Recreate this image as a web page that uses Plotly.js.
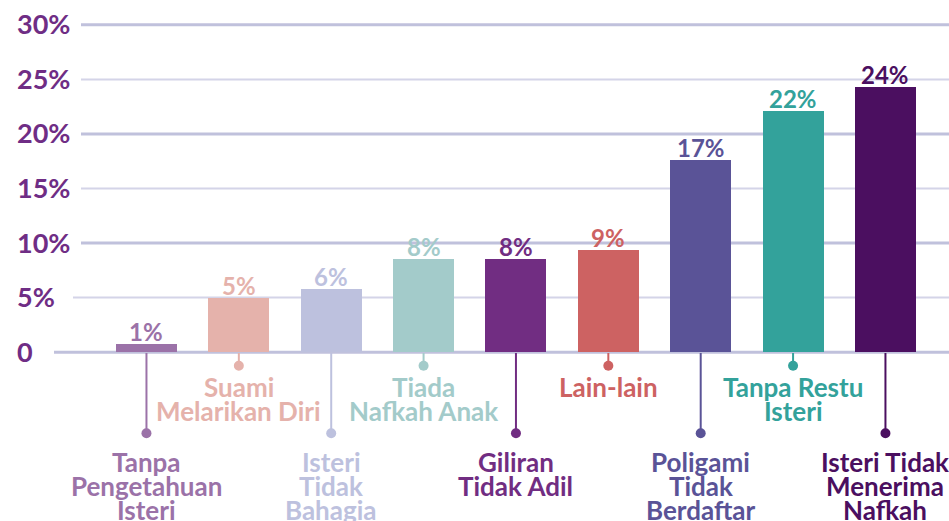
<!DOCTYPE html>
<html><head><meta charset="utf-8">
<script src="https://cdn.plot.ly/plotly-3.0.1.min.js"></script>
<style>html,body{margin:0;padding:0;background:#fff;}#chart{width:949px;height:521px;}</style>
</head><body><div id="chart"></div>
<script>
const categories = ["Tanpa Pengetahuan Isteri","Suami Melarikan Diri","Isteri Tidak Bahagia","Tiada Nafkah Anak","Giliran Tidak Adil","Lain-lain","Poligami Tidak Berdaftar","Tanpa Restu Isteri","Isteri Tidak Menerima Nafkah"];
const labelLines = [["Tanpa","Pengetahuan","Isteri"],["Suami","Melarikan Diri"],["Isteri","Tidak","Bahagia"],["Tiada","Nafkah Anak"],["Giliran","Tidak Adil"],["Lain-lain"],["Poligami","Tidak","Berdaftar"],["Tanpa Restu","Isteri"],["Isteri Tidak","Menerima","Nafkah"]];
const values = [0.73, 4.95, 5.77, 8.52, 8.52, 9.34, 17.58, 22.07, 24.27];
const valueLabels = ["1%","5%","6%","8%","8%","9%","17%","22%","24%"];
const colors = ["#9b72a8","#e5b2ab","#bdc1de","#a3cbca","#712d82","#cd6262","#5a5397","#33a29b","#4b0f60"];
const yTickVals = [0,5,10,15,20,25,30];
const yTickText = ["0","5%","10%","15%","20%","25%","30%"];

const FONT = "Lato, 'Open Sans', sans-serif";
const WEIGHT = 700;
const L = 14, W = 935, T = 3, H = 371, TOTAL_H = 521;
const px2paperX = p => (p - L) / W;
const px2paperY = p => (T + H - p) / H;

// gridlines (as shapes so they can start at different x)
const gridStartPx = {0:54, 5:73, 10:81, 15:81, 20:81, 25:81, 30:81};
const shapes = [];
yTickVals.forEach(v => {
  const thick = (v % 10 === 0);
  shapes.push({type:'line', xref:'paper', yref:'y', x0:px2paperX(gridStartPx[v]), x1:1, y0:v, y1:v,
    line:{color: thick ? '#c0c1dc' : '#d4d4e8', width: thick ? 3 : 2}, layer:'below'});
});

const annotations = [];
categories.forEach((c, i) => {
  const long = (i % 2 === 0);
  const dotPx = long ? 433.3 : 365.7;
  shapes.push({type:'line', xref:'x', yref:'paper', x0:c, x1:c, y0:px2paperY(353), y1:px2paperY(dotPx),
    line:{color:colors[i], width:2}});
  shapes.push({type:'circle', xref:'x', yref:'paper', xsizemode:'pixel', ysizemode:'pixel',
    xanchor:c, yanchor:px2paperY(dotPx), x0:-5, x1:5, y0:-5, y1:5,
    fillcolor:colors[i], line:{width:0}});
  const startPx = long ? 462 : 387;
  labelLines[i].forEach((t, k) => {
    const cy = startPx + k * 24;
    annotations.push({x:c, xref:'x', y:0, yref:'paper', yanchor:'middle', xanchor:'center',
      yshift: -(cy - (T + H)), text:t, showarrow:false,
      font:{family:FONT, size:26, color:colors[i], weight:WEIGHT}});
  });
  // value label above each bar
  annotations.push({x:c, xref:'x', y:values[i], yref:'y', yanchor:'middle', xanchor:'center',
    yshift:13, text:valueLabels[i], showarrow:false,
    font:{family:FONT, size:24, color:colors[i], weight:WEIGHT}});
});

const trace = {
  type:'bar', x:categories, y:values, width:0.66,
  marker:{color:colors, line:{width:0}},
  hoverinfo:'none'
};

const layout = {
  width:949, height:521,
  margin:{l:L, r:0, t:T, b:TOTAL_H - T - H, pad:0},
  paper_bgcolor:'#ffffff', plot_bgcolor:'rgba(0,0,0,0)',
  showlegend:false,
  bargap:0,
  xaxis:{type:'category', range:[-1.434, 8.688], showgrid:false, zeroline:false, showline:false,
    showticklabels:false, ticks:'', fixedrange:true},
  yaxis:{range:[-2, 32], tickvals:yTickVals, ticktext:yTickText, showgrid:false, zeroline:false,
    showline:false, ticks:'', ticklabelposition:'inside',
    tickfont:{family:FONT, size:27, color:'#6f2d85', weight:WEIGHT}, fixedrange:true},
  shapes:shapes, annotations:annotations,
  font:{family:FONT}
};

Plotly.newPlot('chart', [trace], layout, {displayModeBar:false, staticPlot:true});
</script>
</body></html>
